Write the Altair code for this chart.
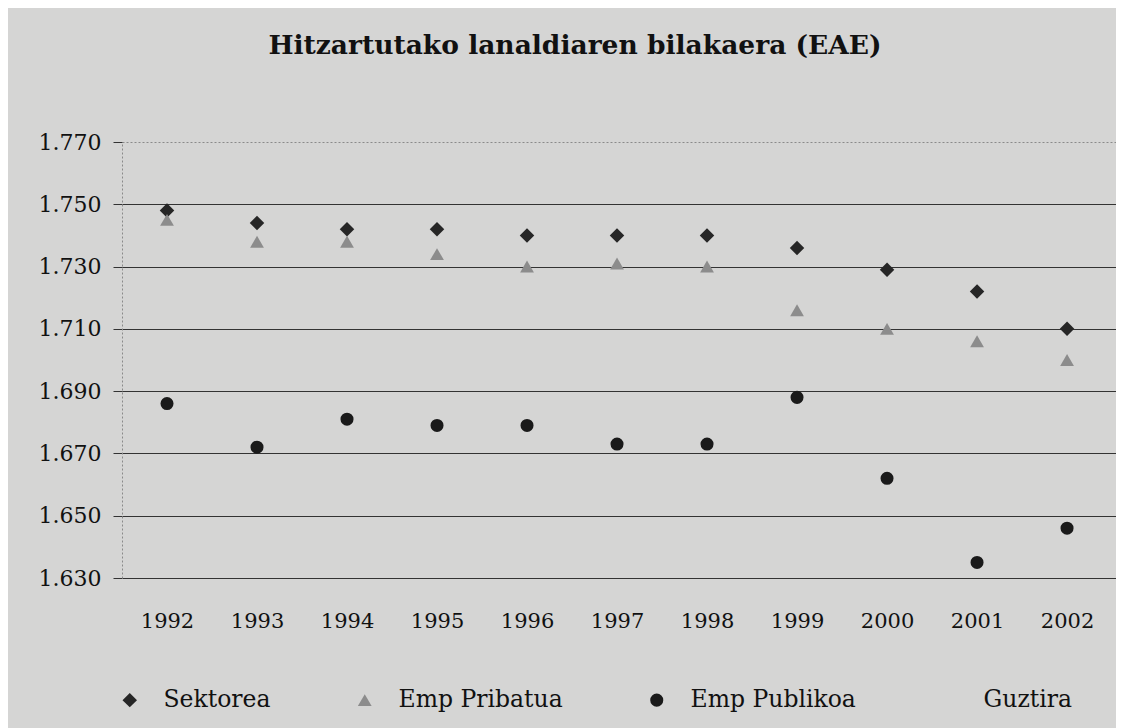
import altair as alt
import pandas as pd

years = ["1992", "1993", "1994", "1995", "1996", "1997", "1998", "1999", "2000", "2001", "2002"]
sektorea = [1748, 1744, 1742, 1742, 1740, 1740, 1740, 1736, 1729, 1722, 1710]
pribatua = [1745, 1738, 1738, 1734, 1730, 1731, 1730, 1716, 1710, 1706, 1700]
publikoa = [1686, 1672, 1681, 1679, 1679, 1673, 1673, 1688, 1662, 1635, 1646]
series = ["Sektorea", "Emp Pribatua", "Emp Publikoa", "Guztira"]
y_ticks = [1630, 1650, 1670, 1690, 1710, 1730, 1750, 1770]

rows = []
for name, vals in zip(series[:3], [sektorea, pribatua, publikoa]):
    for yr, v in zip(years, vals):
        rows.append({"Urtea": yr, "Balioa": v, "Seriea": name})
df = pd.DataFrame(rows)

FONT = "DejaVu Serif"
INK = "#111111"

legend_opts = dict(
    title=None, orient="none", direction="horizontal",
    legendX=-4, legendY=546,
    labelFont=FONT, labelFontSize=23.5, labelColor=INK, labelLimit=400,
    symbolSize=100, labelOffset=22, columnPadding=82, padding=0,
    symbolStrokeWidth=0,
)

chart = (
    alt.Chart(df)
    .mark_point(filled=True, opacity=1, strokeWidth=0)
    .encode(
        x=alt.X(
            "Urtea:O",
            sort=years,
            scale=alt.Scale(type="point", padding=0.522, align=0.479),
            axis=alt.Axis(
                title=None, labelAngle=0, domain=False, ticks=False, grid=False,
                labelPadding=32, labelFontSize=21, labelFont=FONT, labelColor=INK,
            ),
        ),
        y=alt.Y(
            "Balioa:Q",
            scale=alt.Scale(domain=[1630, 1770], nice=False, zero=False),
            axis=alt.Axis(
                title=None, values=y_ticks,
                labelExpr="replace(format(datum.value, ','), ',', '.')",
                labelFontSize=22, labelFont=FONT, labelColor=INK, labelPadding=12,
                tickSize=9, tickColor="#333333", tickWidth=1,
                domain=True, domainColor="#8a8a8a", domainDash=[2, 2], domainWidth=1,
                grid=True,
                gridColor={"condition": {"test": "datum.value === 1770", "value": "#8a8a8a"}, "value": "#333333"},
                gridDash={"condition": {"test": "datum.value === 1770", "value": [2, 2]}, "value": []},
                gridWidth=1,
            ),
        ),
        shape=alt.Shape(
            "Seriea:N",
            scale=alt.Scale(domain=series, range=["diamond", "triangle-up", "circle", "circle"]),
            legend=alt.Legend(**legend_opts),
        ),
        color=alt.Color(
            "Seriea:N",
            scale=alt.Scale(domain=series, range=["#262626", "#8c8c8c", "#1a1a1a", "transparent"]),
            legend=alt.Legend(**legend_opts),
        ),
        size=alt.Size(
            "Seriea:N",
            scale=alt.Scale(domain=series, range=[210, 150, 210, 0]),
            legend=None,
        ),
    )
    .properties(
        width=994,
        height=436,
        background="#d5d5d4",
        padding={"left": 30, "top": 24, "right": 0, "bottom": 30},
        title=alt.TitleParams(
            "Hitzartutako lanaldiaren bilakaera (EAE)",
            font=FONT, fontSize=26.5, fontWeight="bold", color=INK, offset=72,
            anchor="middle", dx=-44,
        ),
    )
    .configure_view(stroke=None)
)

chart.save("out.html", embed_options={"renderer": "svg", "actions": False})
